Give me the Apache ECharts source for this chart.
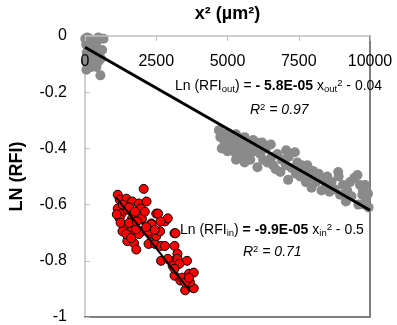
<!DOCTYPE html>
<html lang="en">
<head>
    <meta charset="UTF-8">
    <title>LN (RFI) vs x²</title>
    <script src="https://cdn.jsdelivr.net/npm/echarts@6/dist/echarts.min.js"></script>
    <style>
        body { margin: 0; background: #fff; }
    </style>
</head>
<body>
<div id="main" style="width: 397px;height:325px;"></div>
<script type="text/javascript">
    // outer gray points, near x=0
    var outNear = [
        [10, -0.01], [40, -0.03], [80, -0.005], [120, -0.02], [160, -0.01], [200, -0.04],
        [250, -0.02], [300, -0.015], [350, -0.03], [420, -0.02], [60, -0.06], [100, -0.05],
        [180, -0.07], [230, -0.06], [300, -0.05], [380, -0.07], [450, -0.06], [560, -0.08],
        [30, -0.09], [90, -0.10], [150, -0.09], [220, -0.11], [300, -0.10], [400, -0.11],
        [480, -0.09], [600, -0.05], [540, -0.14], [140, -0.04], [330, -0.085], [50, -0.12],
        [650, -0.01], [470, -0.005]
    ];
    // outer gray points, far cluster
    var outFar = [
        [4700, -0.335], [4750, -0.36], [4850, -0.35], [4900, -0.38], [5000, -0.345], [5050, -0.37],
        [5100, -0.395], [5150, -0.36], [5200, -0.41], [5250, -0.38], [5300, -0.35], [5350, -0.40],
        [5400, -0.42], [5450, -0.37], [5500, -0.39], [5550, -0.43], [5600, -0.36], [5650, -0.40],
        [5700, -0.375], [5750, -0.42], [5800, -0.44], [5850, -0.39], [5900, -0.37], [5950, -0.41],
        [6050, -0.467], [4800, -0.40], [5000, -0.41], [5300, -0.44], [5600, -0.45],
        [6050, -0.38], [6150, -0.42], [6215, -0.379], [6250, -0.44], [6350, -0.40], [6400, -0.45],
        [6520, -0.386], [6550, -0.43], [6600, -0.46], [6690, -0.474], [6750, -0.42], [6857, -0.484],
        [6900, -0.44], [7060, -0.407], [7050, -0.46], [7127, -0.512], [7150, -0.43], [7250, -0.47],
        [7364, -0.414], [7400, -0.49], [7450, -0.45], [7550, -0.50], [7600, -0.46], [7700, -0.48],
        [7750, -0.52], [7800, -0.46], [7900, -0.50], [7950, -0.54], [8000, -0.48],
        [8100, -0.52], [8200, -0.49], [8300, -0.55], [8350, -0.51], [8450, -0.53], [8500, -0.50],
        [8580, -0.554], [8650, -0.52], [8750, -0.545], [8884, -0.484], [8900, -0.50], [8950, -0.565],
        [9050, -0.53], [9155, -0.589], [9200, -0.55], [9300, -0.52], [9350, -0.57], [9450, -0.505],
        [9560, -0.495], [9590, -0.60], [9650, -0.53], [9730, -0.565], [9750, -0.55], [9830, -0.53],
        [9850, -0.58], [9930, -0.561], [9950, -0.61], [9800, -0.60]
    ];
    // inner red points
    var inPts = [
        [1150, -0.565], [1215, -0.582], [1450, -0.579], [1655, -0.589], [1890, -0.596], [2160, -0.589],
        [2060, -0.544], [1150, -0.614], [1285, -0.632], [1485, -0.618], [1960, -0.614], [1215, -0.649],
        [1655, -0.649], [1990, -0.653], [2330, -0.667], [1385, -0.677], [1315, -0.695], [1655, -0.688],
        [1990, -0.695], [1620, -0.712], [1890, -0.705], [1485, -0.730], [1720, -0.737], [2330, -0.702],
        [2500, -0.632], [2330, -0.737], [1115, -0.635], [1790, -0.688], [1990, -0.649], [2330, -0.670],
        [2565, -0.632], [2805, -0.660], [3140, -0.702], [2230, -0.740], [2465, -0.740], [2670, -0.747],
        [3140, -0.747], [3245, -0.775], [2670, -0.800], [3005, -0.800], [3580, -0.800], [3140, -0.853],
        [3345, -0.870], [3650, -0.846], [3815, -0.842], [3515, -0.905], [3815, -0.898], [3680, -0.877],
        [2905, -0.649], [3175, -0.702], [1450, -0.705], [1620, -0.719], [2805, -0.747], [2905, -0.793],
        [3245, -0.793], [3075, -0.818], [3310, -0.811], [3410, -0.860], [3515, -0.877], [2230, -0.695],
        [2500, -0.712], [2635, -0.695], [3140, -0.828], [3650, -0.860], [1320, -0.600], [1550, -0.610],
        [1750, -0.625], [2100, -0.625], [1250, -0.665], [1550, -0.665], [1820, -0.660], [2150, -0.680],
        [1800, -0.760], [2650, -0.660], [2450, -0.690]
    ];
    // trend lines
    var outFit = [[0, -0.04], [10000, -0.62]];
    var inFit = [[1100, -0.575], [3700, -0.91]];

    var xTickValues = [0, 2500, 5000, 7500, 10000];
    var yTicks = { min: -1, max: 0, interval: 0.2 };

    var myChart = echarts.init(document.getElementById('main'));
    var font = 'Liberation Sans';
    var eqRich = {
        n: { fontSize: 14, fontFamily: font, fill: '#000' },
        b: { fontSize: 14, fontFamily: font, fontWeight: 'bold', fill: '#000' },
        sub: { fontSize: 9.5, fontFamily: font, padding: [7, 0, 0, 0], fill: '#000' },
        sup: { fontSize: 9.5, fontFamily: font, padding: [0, 0, 6, 0], fill: '#000' },
        i: { fontSize: 14, fontFamily: font, fontStyle: 'italic', fill: '#000' }
    };

    var option = {
        animation: false,
        grid: { left: 74, right: 27, top: 32, bottom: 8 },
        xAxis: [{
            type: 'value',
            position: 'top',
            z: 10,
            min: 0, max: 10000, interval: 2500,
            name: 'x² (µm²)',
            nameLocation: 'middle',
            nameGap: 13,
            nameTextStyle: { fontFamily: font, fontSize: 18, fontWeight: 'bold', color: '#000' },
            axisLine: { onZero: false, lineStyle: { color: '#bfbfbf', width: 1.5 } },
            axisTick: { inside: true, length: 5, lineStyle: { color: '#bfbfbf' } },
            axisLabel: { inside: true, margin: 18, fontFamily: font, fontSize: 16, color: '#000',
                customValues: xTickValues, hideOverlap: false,
                formatter: function (v) { return String(v); } },
            splitLine: { show: false }
        }, {
            type: 'value',
            position: 'bottom',
            min: 0, max: 10000,
            axisLine: { show: true, onZero: false, lineStyle: { color: '#7f7f7f', width: 2 } },
            axisTick: { show: false },
            axisLabel: { show: false },
            splitLine: { show: false }
        }],
        yAxis: [{
            type: 'value',
            min: yTicks.min, max: yTicks.max, interval: yTicks.interval,
            name: 'LN (RFI)',
            nameLocation: 'middle',
            nameGap: 59,
            nameTextStyle: { fontFamily: font, fontSize: 18, fontWeight: 'bold', color: '#000' },
            axisLine: { show: true, onZero: false, lineStyle: { color: '#bfbfbf', width: 1.5 } },
            axisTick: { show: true, inside: true, length: 5, lineStyle: { color: '#bfbfbf' } },
            axisLabel: { margin: 18, fontFamily: font, fontSize: 16, color: '#000' },
            splitLine: { show: false }
        }, {
            type: 'value',
            position: 'right',
            min: yTicks.min, max: yTicks.max,
            axisLine: { show: true, onZero: false, lineStyle: { color: '#7f7f7f', width: 2 } },
            axisTick: { show: false },
            axisLabel: { show: false },
            splitLine: { show: false }
        }],
        series: [
            {
                type: 'scatter',
                data: outNear.concat(outFar),
                symbolSize: 10,
                itemStyle: { color: '#8a8a8a', opacity: 1 }
            },
            {
                type: 'scatter',
                data: inPts,
                symbolSize: 9,
                itemStyle: { color: '#ff0000', borderColor: '#000', borderWidth: 1, opacity: 1 }
            },
            {
                type: 'line',
                data: outFit,
                symbol: 'none',
                lineStyle: { color: '#000', width: 3 },
                z: 5
            },
            {
                type: 'line',
                data: inFit,
                symbol: 'none',
                lineStyle: { color: '#000', width: 2 },
                z: 5
            }
        ],
        graphic: [
            {
                type: 'text', left: 175, top: 78, z: 10,
                style: {
                    text: '{n|Ln (RFI}{sub|out}{n|) = }{b|- 5.8E-05}{n| x}{sub|out}{sup|2}{n| - 0.04}',
                    rich: eqRich
                }
            },
            {
                type: 'text', left: 250, top: 102, z: 10,
                style: { text: '{i|R}{sup|2}{i| = 0.97}', rich: eqRich }
            },
            {
                type: 'text', left: 180, top: 222, z: 10,
                style: {
                    text: '{n|Ln (RFI}{sub|in}{n|) }{b|= -9.9E-05}{n| x}{sub|in}{sup|2}{n| - 0.5}',
                    rich: eqRich
                }
            },
            {
                type: 'text', left: 243, top: 244, z: 10,
                style: { text: '{i|R}{sup|2}{i| = 0.71}', rich: eqRich }
            }
        ]
    };
    myChart.setOption(option);
</script>
</body>
</html>
